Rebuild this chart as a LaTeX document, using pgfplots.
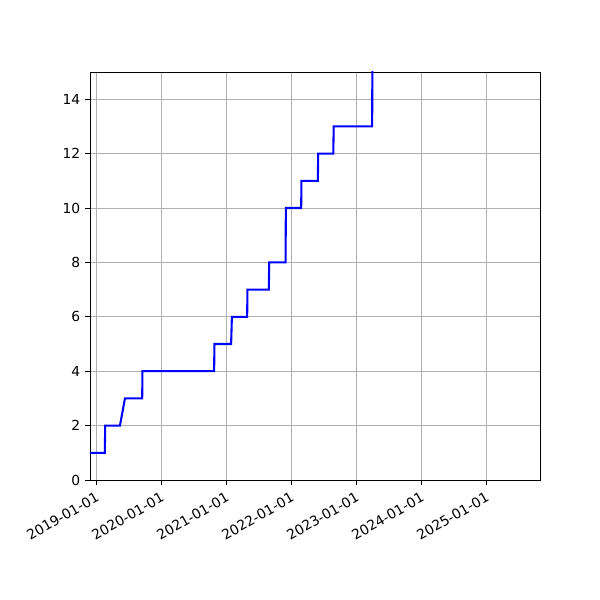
\documentclass[border=0pt]{standalone}
\usepackage{fontspec}
\setmainfont{DejaVu Sans}
\usepackage{pgfplots}
\pgfplotsset{compat=1.18}

\definecolor{gridgray}{HTML}{B0B0B0}

\begin{document}
\begin{tikzpicture}
\useasboundingbox (-0.9in,-1.2in) rectangle (5.1in,4.8in);
\begin{axis}[
  at={(0,0)}, anchor=south west,
  scale only axis,
  width=4.5in, height=4.08in,
  xmin=2018.897, xmax=2025.82,
  ymin=0, ymax=15,
  xtick={2019,2020,2021,2022,2023,2024,2025},
  xticklabels={2019-01-01,2020-01-01,2021-01-01,2022-01-01,2023-01-01,2024-01-01,2025-01-01},
  ytick={0,2,4,6,8,10,12,14},
  xticklabel style={rotate=30, anchor=north east, font=\fontsize{10}{12}\selectfont},
  yticklabel style={font=\fontsize{10}{12}\selectfont},
  /pgf/number format/assume math mode=true,
  tick align=outside,
  major tick length=3.5pt,
  tick style={black, line width=0.65pt},
  xtick pos=bottom, ytick pos=left,
  grid=major,
  major grid style={gridgray, line width=0.7pt},
  axis line style={black, line width=0.65pt},
  clip=true,
]
\addplot[color=blue, line width=1.5pt, line join=miter] coordinates {
  (2018.85,1) (2019.125,1)
  (2019.131,2) (2019.358,2)
  (2019.435,3) (2019.700,3)
  (2019.704,4) (2020.807,4)
  (2020.811,5) (2021.068,5)
  (2021.080,6) (2021.315,6)
  (2021.319,7) (2021.649,7)
  (2021.653,8) (2021.906,8)
  (2021.910,10) (2022.146,10)
  (2022.150,11) (2022.403,11)
  (2022.407,12) (2022.640,12)
  (2022.646,13) (2023.238,13)
  (2023.242,16)
};
\end{axis}
\end{tikzpicture}
\end{document}
